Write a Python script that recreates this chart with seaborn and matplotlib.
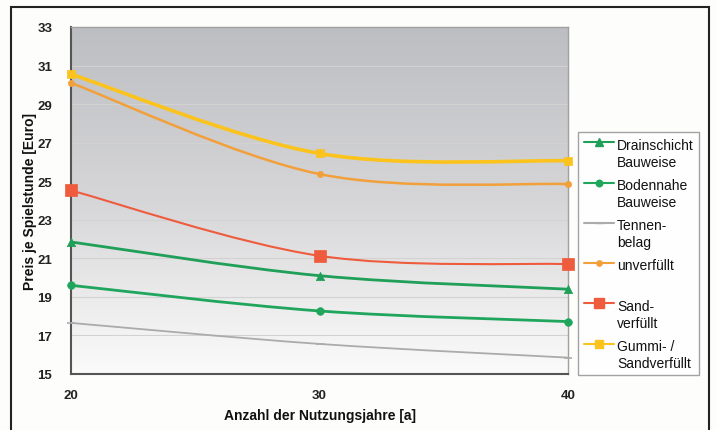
import numpy as np
import matplotlib
matplotlib.use('Agg')
import matplotlib.pyplot as plt
import seaborn as sns
from matplotlib.path import Path
from matplotlib.patches import PathPatch, Rectangle
from matplotlib.lines import Line2D

sns.set_theme(style='white')
plt.rcParams['font.family'] = ['Liberation Sans', 'DejaVu Sans']

# data
years = [20, 30, 40]
drainschicht = [21.85, 20.1, 19.4]
bodennahe = [19.6, 18.27, 17.72]
tennenbelag = [17.65, 16.56, 15.85]
unverfuellt = [30.1, 25.37, 24.85]
sandverfuellt = [24.52, 21.13, 20.7]
gummi_sand = [30.55, 26.44, 26.06]

labels = ['Drainschicht\nBauweise', 'Bodennahe\nBauweise', 'Tennen-\nbelag',
          'unverfüllt\n ', 'Sand-\nverfüllt', 'Gummi- /\nSandverfüllt']
series = [drainschicht, bodennahe, tennenbelag, unverfuellt, sandverfuellt, gummi_sand]

styles = [
    dict(color='#1f9f58', lw=2.0, marker='^', ms=6),
    dict(color='#1fa65c', lw=2.0, marker='o', ms=5.5),
    dict(color='#ababab', lw=1.3, marker='_', ms=6),
    dict(color='#f2a03a', lw=1.8, marker='o', ms=4.5),
    dict(color='#ef5b3d', lw=1.5, marker='s', ms=8),
    dict(color='#fbc31c', lw=2.6, marker='s', ms=6),
]


def smooth_path(xs, ys):
    # Excel-style smoothed line: cubic bezier segments through the points
    pts = np.column_stack([xs, ys]).astype(float)
    ext = np.vstack([pts[0], pts, pts[-1]])
    verts = [pts[0]]
    codes = [Path.MOVETO]
    for i in range(len(pts) - 1):
        p0, p1, p2, p3 = ext[i], ext[i + 1], ext[i + 2], ext[i + 3]
        c1 = p1 + (p2 - p0) / 6
        c2 = p2 - (p3 - p1) / 6
        verts += [c1, c2, p2]
        codes += [Path.CURVE4] * 3
    return Path(verts, codes)


fig = plt.figure(figsize=(7.17, 4.31), dpi=100)
fig.patch.set_facecolor('#fdfdfb')
ax = fig.add_axes([71 / 717, 56 / 431, 497 / 717, 347 / 431])

# grey-to-white background gradient (dark at the top)
grad = np.linspace(0, 1, 256).reshape(-1, 1)
cmap = matplotlib.colors.LinearSegmentedColormap.from_list(
    'bg', ['#bdbec2', '#d6d6d8', '#fbfbfb'])
ax.imshow(grad, cmap=cmap, aspect='auto', extent=[20, 40, 15, 33],
          origin='upper', zorder=0, interpolation='bicubic')

for y in range(17, 33, 2):
    ax.axhline(y, color='#d2d2d2', lw=0.8, zorder=1)

handles = []
for vals, st, lab in zip(series, styles, labels):
    ax.add_patch(PathPatch(smooth_path(years, vals), facecolor='none',
                           edgecolor=st['color'], lw=st['lw'], zorder=3))
    sns.scatterplot(x=years, y=vals, ax=ax, marker=st['marker'],
                    s=st['ms'] ** 2, color=st['color'],
                    edgecolor=st['color'] if st['marker'] != '_' else None,
                    linewidth=1.2 if st['marker'] == '_' else 0.5,
                    zorder=4, clip_on=False)
    handles.append(Line2D([], [], color=st['color'], lw=1.5,
                          marker=st['marker'], ms=st['ms'] * 0.85,
                          mec=st['color'], label=lab))

ax.set_xlim(20, 40)
ax.set_ylim(15, 33)
ax.set_xticks(years)
ax.set_yticks(range(15, 34, 2))
ax.tick_params(axis='both', direction='inout', length=5, width=1,
               color='#555555', labelsize=9.5, labelcolor='#222222')
ax.tick_params(axis='y', pad=11)
ax.tick_params(axis='x', pad=8)
for lbl in ax.get_xticklabels() + ax.get_yticklabels():
    lbl.set_fontweight('bold')

for side in ['left', 'bottom']:
    ax.spines[side].set_color('#555555')
    ax.spines[side].set_linewidth(1.5)
for side in ['top', 'right']:
    ax.spines[side].set_color('#a0a0a0')
    ax.spines[side].set_linewidth(1.0)

ax.set_xlabel('Anzahl der Nutzungsjahre [a]', fontsize=10, fontweight='bold',
              color='#111111', labelpad=5)
ax.set_ylabel('Preis je Spielstunde [Euro]', fontsize=10, fontweight='bold',
              color='#111111', labelpad=0.5)

leg = fig.legend(handles=handles, loc='upper left',
                 bbox_to_anchor=(578 / 717, (431 - 133) / 431),
                 fontsize=10, frameon=True, fancybox=False, handlelength=2.2,
                 handletextpad=0.2, labelspacing=0.66, borderpad=0.4,
                 borderaxespad=0)
leg.get_frame().set_edgecolor('#8c8c8c')
leg.get_frame().set_facecolor('#ffffff')
leg.get_frame().set_linewidth(1.0)
for txt in leg.get_texts():
    txt.set_linespacing(1.28)
    txt.set_color('#111111')
for col in leg._legend_handle_box.get_children():
    for item in col.get_children():
        item.align = 'top'

# outer frame of the figure
fig.add_artist(Rectangle((11 / 717, -0.02), 698 / 717, (431 - 8) / 431 + 0.02,
                         transform=fig.transFigure, fill=False,
                         edgecolor='#222222', lw=1.5))

fig.savefig('out.png', dpi=100, facecolor=fig.get_facecolor())
